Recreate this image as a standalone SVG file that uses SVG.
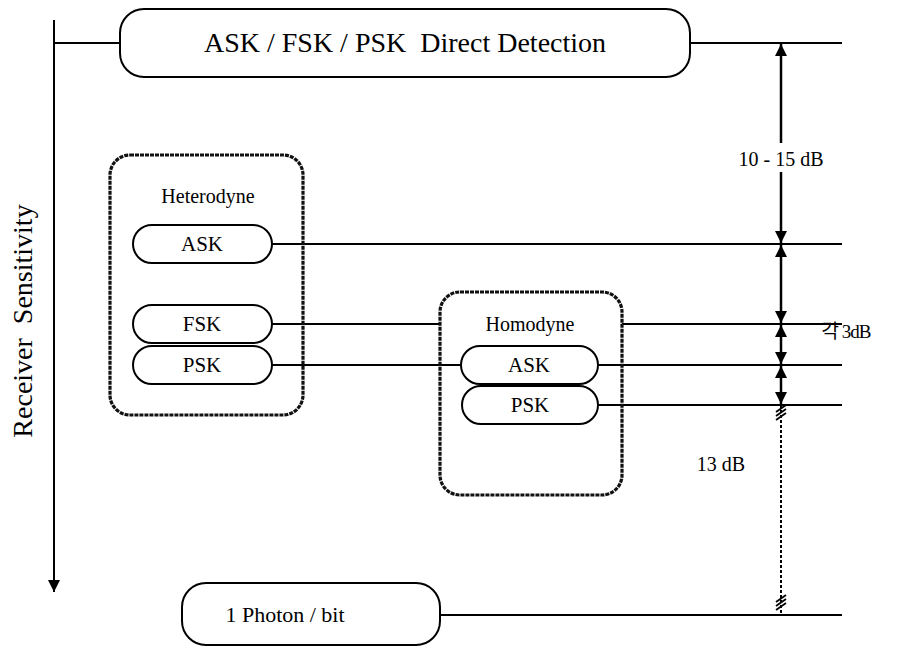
<svg xmlns="http://www.w3.org/2000/svg" width="922" height="648" viewBox="0 0 922 648">
<defs>
<marker id="ahb" viewBox="0 0 10 10" refX="10" refY="5" markerWidth="14" markerHeight="12" markerUnits="userSpaceOnUse" orient="auto-start-reverse">
<path d="M0,0 L10,5 L0,10 z" fill="#000"/>
</marker>
</defs>
<style>
.box{fill:#fff;stroke:#000;stroke-width:2}
.grp{fill:none;stroke:#111;stroke-width:3.2;stroke-dasharray:4 1}
.ln{stroke:#000;stroke-width:2;fill:none}
.dim{stroke:#000;stroke-width:2.5;fill:none}
.lbl{font-size:21px;text-anchor:middle}
</style>
<rect width="922" height="648" fill="#fff"/>
<g id="connectors">
<line class="ln" x1="54" y1="20" x2="54" y2="592" marker-end="url(#ahb)"/>
<line class="ln" x1="54" y1="43" x2="120" y2="43"/>
<line class="ln" x1="690" y1="43" x2="842" y2="43"/>
<line class="ln" x1="272" y1="244" x2="842" y2="244"/>
<line class="ln" x1="272" y1="324" x2="440" y2="324"/>
<line class="ln" x1="622" y1="324" x2="842" y2="324"/>
<line class="ln" x1="272" y1="365" x2="461" y2="365"/>
<line class="ln" x1="598" y1="365" x2="842" y2="365"/>
<line class="ln" x1="598" y1="405" x2="842" y2="405"/>
<line class="ln" x1="440" y1="615" x2="842" y2="615"/>
<line class="dim" x1="781" y1="143" x2="781" y2="44" marker-end="url(#ahb)"/>
<line class="dim" x1="781" y1="172" x2="781" y2="243" marker-end="url(#ahb)"/>
<line class="dim" x1="781" y1="245" x2="781" y2="323" marker-start="url(#ahb)" marker-end="url(#ahb)"/>
<line class="dim" x1="781" y1="325" x2="781" y2="364" marker-start="url(#ahb)" marker-end="url(#ahb)"/>
<line class="dim" x1="781" y1="366" x2="781" y2="404" marker-start="url(#ahb)" marker-end="url(#ahb)"/>
<line x1="781" y1="405" x2="781" y2="615" stroke="#000" stroke-width="2" stroke-dasharray="3 2"/>
<g stroke="#000" stroke-width="1.8">
<line x1="776" y1="412" x2="786" y2="405"/>
<line x1="776" y1="416" x2="786" y2="409"/>
<line x1="776" y1="420" x2="786" y2="413"/>
<line x1="776" y1="602" x2="786" y2="595"/>
<line x1="776" y1="606" x2="786" y2="599"/>
<line x1="776" y1="610" x2="786" y2="603"/>
</g>
</g>
<g font-family="'Liberation Serif', 'Times New Roman', 'Noto Sans CJK KR', serif" fill="#000">
<g id="direct">
<rect class="box" x="120" y="9" width="570" height="68" rx="24"/>
<text x="405" y="52" font-size="28" text-anchor="middle" xml:space="preserve">ASK / FSK / PSK  Direct Detection</text>
</g>
<g id="heterodyne">
<rect class="grp" x="110" y="155" width="193" height="260" rx="20"/>
<text x="208" y="203" font-size="20" text-anchor="middle">Heterodyne</text>
</g>
<g id="het-ask">
<rect class="box" x="133" y="225" width="139" height="38" rx="19"/>
<text class="lbl" x="202" y="251">ASK</text>
</g>
<g id="het-fsk">
<rect class="box" x="133" y="305" width="139" height="38" rx="19"/>
<text class="lbl" x="202" y="331">FSK</text>
</g>
<g id="het-psk">
<rect class="box" x="133" y="346" width="139" height="38" rx="19"/>
<text class="lbl" x="202" y="372">PSK</text>
</g>
<g id="homodyne">
<rect class="grp" x="440" y="292" width="182" height="203" rx="20"/>
<text x="530" y="331" font-size="20" text-anchor="middle">Homodyne</text>
</g>
<g id="hom-ask">
<rect class="box" x="461" y="346" width="137" height="38" rx="19"/>
<text class="lbl" x="529" y="372">ASK</text>
</g>
<g id="hom-psk">
<rect class="box" x="462" y="386" width="136" height="38" rx="19"/>
<text class="lbl" x="530" y="412">PSK</text>
</g>
<g id="photon">
<rect class="box" x="182" y="583" width="258" height="62" rx="24"/>
<text x="285" y="622" font-size="22" text-anchor="middle">1 Photon / bit</text>
</g>
<g id="labels">
<text x="781" y="166" font-size="20" text-anchor="middle">10 - 15 dB</text>
<text x="846" y="338" font-size="19" text-anchor="middle" letter-spacing="-1">각 3dB</text>
<text x="721" y="471" font-size="20" text-anchor="middle">13 dB</text>
<text transform="translate(32,321) rotate(-90)" font-size="28" text-anchor="middle" xml:space="preserve">Receiver  Sensitivity</text>
</g>
</g>
</svg>
